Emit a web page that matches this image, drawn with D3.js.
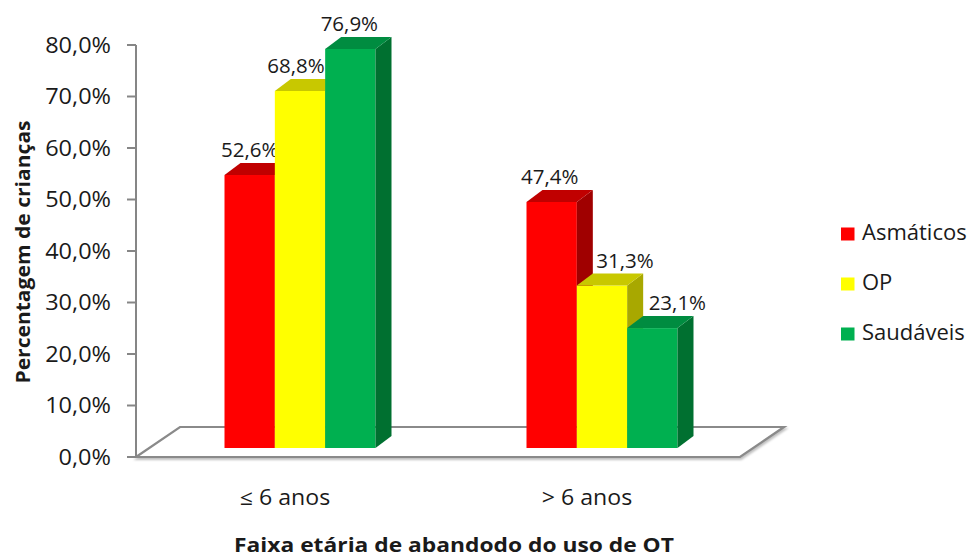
<!DOCTYPE html>
<html><head><meta charset="utf-8">
<script src="https://cdn.jsdelivr.net/npm/d3@7/dist/d3.min.js"></script>
<style>body{margin:0;background:#fff}svg{display:block}text{font-family:"Open Sans",sans-serif;fill:#1a1a1a}</style>
</head><body><svg id="c" width="969" height="558"></svg>
<script>
const categories = ["\u2264 6 anos", "> 6 anos"];
const series = ["Asmáticos", "OP", "Saudáveis"];
const asmaticos = [52.6, 47.4];
const op = [68.8, 31.3];
const saudaveis = [76.9, 23.1];
const yTicks = [0, 10, 20, 30, 40, 50, 60, 70, 80];

const values = [asmaticos, op, saudaveis];
const colors = {front:["#FF0000","#FFFF00","#00B050"], top:["#C00000","#C8C800","#008C40"], side:["#A00000","#A8A800","#007030"]};

const svg = d3.select("#c");
const x = d3.scaleBand().domain(categories).range([136, 740]);
const y = d3.scaleLinear().domain([0, 80]).range([457, 45]);
const yb = d3.scaleLinear().domain([0, 80]).range([448, 32.8]);
const x1 = d3.scaleBand().domain(series).range([x.bandwidth()*0.25, x.bandwidth()*0.75]);
const floorD = {dx: 44, dy: -30};
const barPlane = {dx: 13, dy: -9};
const depth = {dx: 16, dy: -12};
const fmt = v => d3.format(".1f")(v).replace(".", ",") + "%";

function stext(px, py, sx, txt, size, anchor, weight, rot) {
  return svg.append("text")
    .attr("transform", `translate(${px},${py})` + (rot ? ` rotate(${rot})` : "") + ` scale(${sx},1)`)
    .attr("text-anchor", anchor || "start")
    .style("font-size", size + "px").style("font-weight", weight || "normal").text(txt);
}

// floor
const fy = y(0);
svg.append("polygon")
  .attr("points", [[136, fy],[136+floorD.dx, fy+floorD.dy],[740+floorD.dx, fy+floorD.dy],[740, fy]].map(p=>p.join(",")).join(" "))
  .attr("fill","#fff").attr("stroke","#8a8a8a").attr("stroke-width",2.2)
  .attr("style","filter:drop-shadow(1px 2px 1px rgba(0,0,0,0.25))");

// y axis
const ax = svg.append("g");
ax.append("line").attr("x1",136).attr("x2",136).attr("y1",y(80)).attr("y2",y(0)).attr("stroke","#868686").attr("stroke-width",2);
yTicks.forEach(t=>{
  ax.append("line").attr("x1",127).attr("x2",136).attr("y1",y(t)).attr("y2",y(t)).attr("stroke","#868686").attr("stroke-width",2);
  stext(111, y(t) + 7.5, 1.12, fmt(t), 21, "end");
});

// bars
const labelShift = [[0,-4,-1],[-2,23,25]];
categories.forEach((c,ci)=>{
  series.forEach((s,si)=>{
    const v = values[si][ci];
    const x0 = x(c) + x1(s) + barPlane.dx, w = x1.bandwidth();
    const yt = yb(v), y0 = yb(0);
    const g = svg.append("g");
    g.append("rect").attr("x",x0).attr("y",yt).attr("width",w).attr("height",y0-yt).attr("fill",colors.front[si]);
    g.append("polygon").attr("points",[[x0+w,yt],[x0+w+depth.dx,yt+depth.dy],[x0+w+depth.dx,y0+depth.dy],[x0+w,y0]].map(p=>p.join(",")).join(" ")).attr("fill",colors.side[si]);
    g.append("polygon").attr("points",[[x0,yt],[x0+depth.dx,yt+depth.dy],[x0+w+depth.dx,yt+depth.dy],[x0+w,yt]].map(p=>p.join(",")).join(" ")).attr("fill",colors.top[si]);
    stext(x0+w/2+labelShift[ci][si], yt+depth.dy-6, 1.0, fmt(v), 20.5, "middle");
  });
  stext(x(c)+x.bandwidth()/2-2, 505, 1.1, c, 21, "middle");
});

// titles
stext(30, 252, 1.08, "Percentagem de crianças", 19.5, "middle", "bold", -90);
stext(454, 552, 1.14, "Faixa etária de abandodo do uso de OT", 20, "middle", "bold");

// legend
series.forEach((s,i)=>{
  const ly = 232 + i*50;
  svg.append("rect").attr("x",841).attr("y",ly-4.5).attr("width",13.5).attr("height",13).attr("fill",colors.front[i]);
  stext(862, ly+8, 1.0, s, 22, "start");
});
</script></body></html>
